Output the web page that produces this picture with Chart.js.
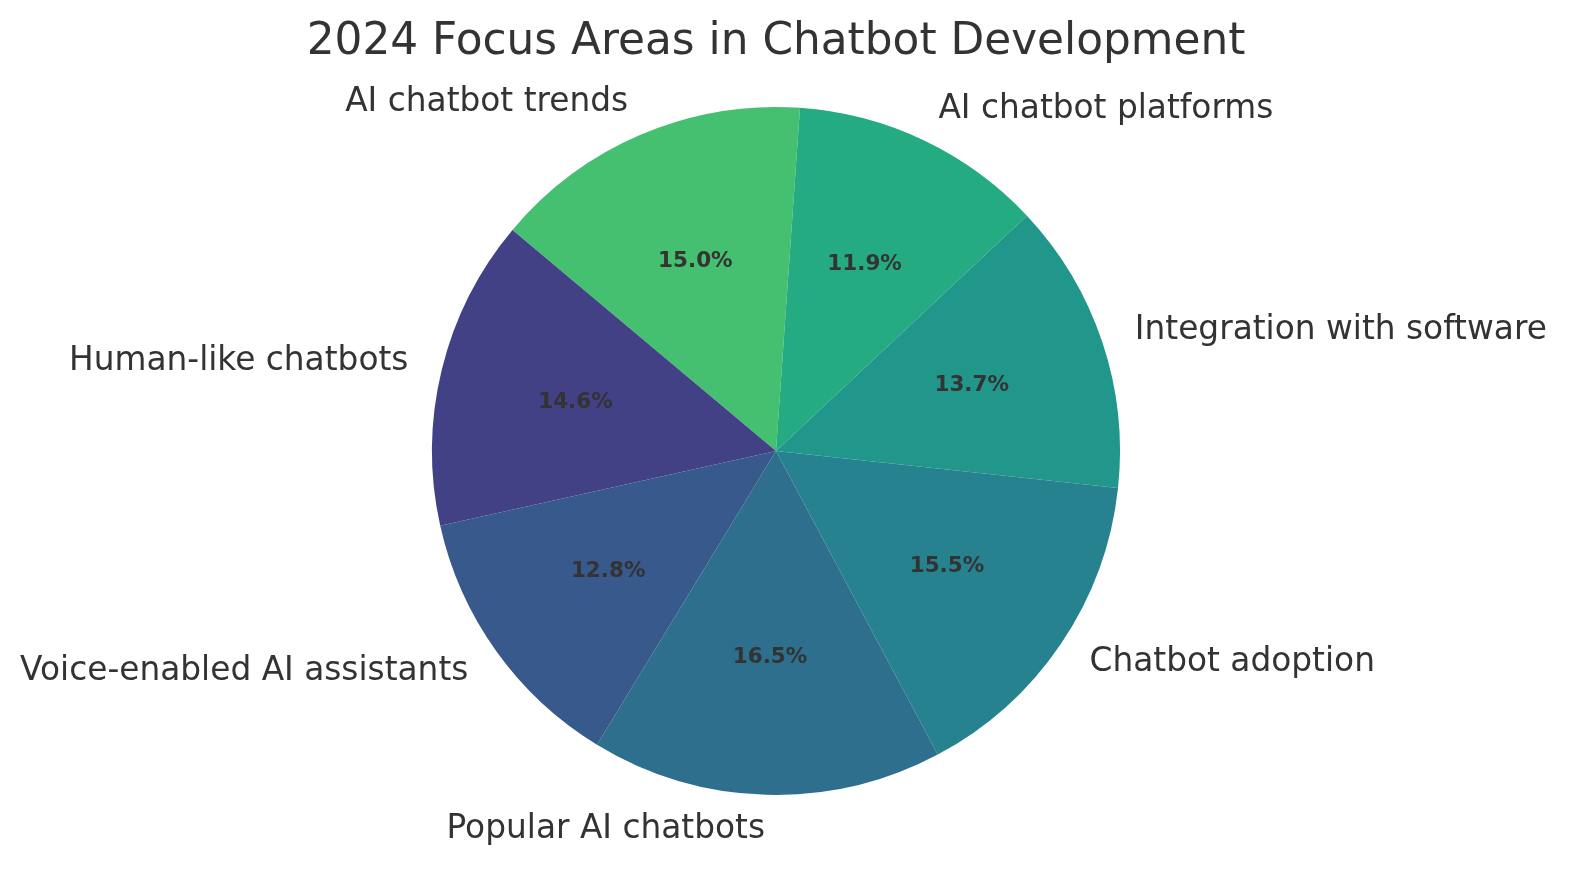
<!DOCTYPE html>
<html>
<head>
<meta charset="utf-8">
<title>2024 Focus Areas in Chatbot Development</title>
<script src="https://cdn.jsdelivr.net/npm/chart.js@4.4.1/dist/chart.umd.min.js"></script>
<style>
  html, body { margin: 0; padding: 0; background: #ffffff; overflow: hidden; }
  #wrap { width: 1587px; height: 875px; }
  canvas { display: block; }
</style>
</head>
<body>
<div id="wrap"><canvas id="pieChart" width="1587" height="875"></canvas></div>
<script>
// slices listed clockwise, starting from the top-left one
const categories = ['AI chatbot trends', 'AI chatbot platforms', 'Integration with software',
    'Chatbot adoption', 'Popular AI chatbots', 'Voice-enabled AI assistants', 'Human-like chatbots'];
const shares = [15.0, 11.9, 13.7, 15.5, 16.5, 12.8, 14.6];
const sliceColors = ['#45bf70', '#25ab82', '#21968b', '#26828e', '#2e6f8e', '#38598c', '#424186'];
const chartTitle = '2024 Focus Areas in Chatbot Development';

const textColor = '#333333';
const fontFamily = "'DejaVu Sans', sans-serif";

// title plus category names outside the pie and percentages inside it
const sliceLabels = {
    id: 'sliceLabels',
    afterDatasetsDraw(chart) {
        const ctx = chart.ctx;
        const arcs = chart.getDatasetMeta(0).data;
        const total = shares.reduce((a, b) => a + b, 0);
        ctx.save();
        ctx.fillStyle = textColor;

        ctx.font = `43.8px ${fontFamily}`;
        ctx.textAlign = 'center';
        ctx.textBaseline = 'alphabetic';
        ctx.fillText(chartTitle, (chart.chartArea.left + chart.chartArea.right) / 2, 54);

        arcs.forEach((arc, i) => {
            const mid = (arc.startAngle + arc.endAngle) / 2;
            const r = arc.outerRadius;
            const cx = arc.x, cy = arc.y;

            const lx = cx + Math.cos(mid) * r * 1.1;
            const ly = cy + Math.sin(mid) * r * 1.1;
            ctx.font = `32.8px ${fontFamily}`;
            ctx.textAlign = lx > cx ? 'left' : 'right';
            ctx.textBaseline = 'middle';
            ctx.fillText(categories[i], lx, ly);

            const px = cx + Math.cos(mid) * r * 0.6;
            const py = cy + Math.sin(mid) * r * 0.6;
            ctx.font = `bold 21.5px ${fontFamily}`;
            ctx.textAlign = 'center';
            ctx.fillText((shares[i] / total * 100).toFixed(1) + '%', px, py);
        });
        ctx.restore();
    }
};

const chart = new Chart(document.getElementById('pieChart'), {
    type: 'pie',
    data: {
        labels: categories,
        datasets: [{
            data: shares,
            backgroundColor: sliceColors,
            borderWidth: 0,
            hoverOffset: 0
        }]
    },
    options: {
        responsive: false,
        animation: false,
        devicePixelRatio: 1,
        rotation: -50,
        layout: { padding: { top: 107, bottom: 80, left: 432, right: 467 } },
        plugins: {
            legend: { display: false },
            tooltip: { enabled: false },
            title: { display: false }
        }
    },
    plugins: [sliceLabels]
});
</script>
</body>
</html>
